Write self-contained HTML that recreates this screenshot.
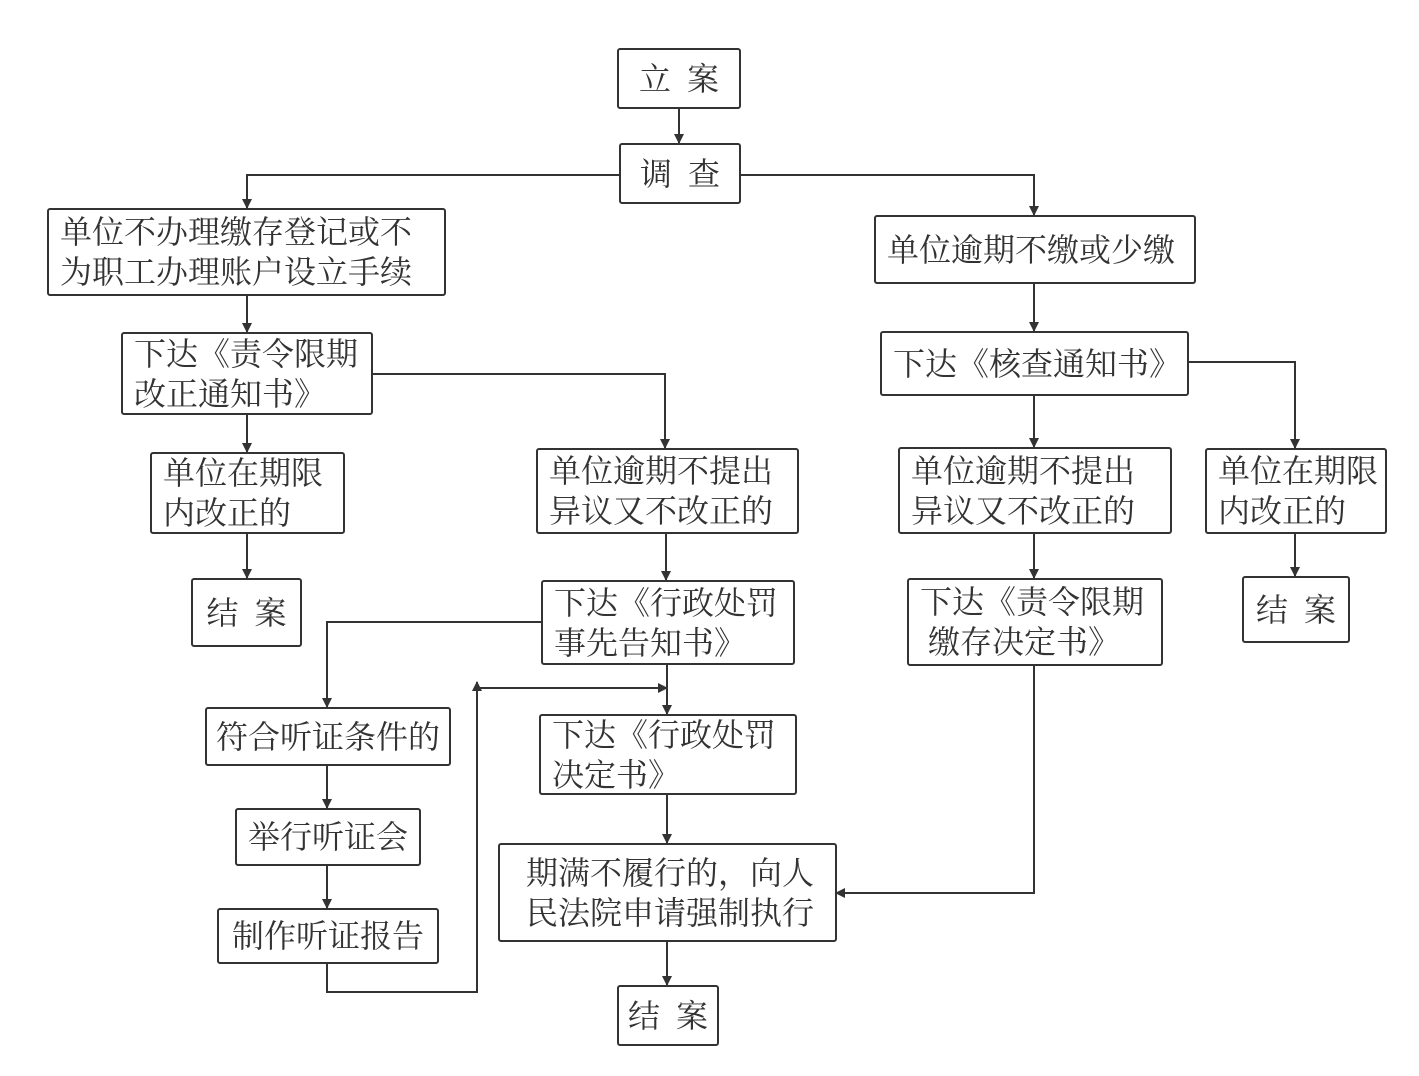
<!DOCTYPE html>
<html><head><meta charset="utf-8"><style>
body{margin:0;background:#fff;width:1419px;height:1076px;position:relative;overflow:hidden;font-family:"Liberation Serif","Noto Serif CJK SC","Noto Sans CJK SC",serif;color:#333}
.b{position:absolute;box-sizing:border-box;border:2px solid #333;border-radius:3px;background:#fff;font-size:32px;line-height:40px;display:flex;align-items:center;padding-left:11px;white-space:pre}
.c{justify-content:center;padding-left:0}
svg{position:absolute;left:0;top:0}
</style></head><body>
<svg width="1419" height="1076">
<defs><marker id="a" markerWidth="10" markerHeight="10" refX="9" refY="5" orient="auto" markerUnits="userSpaceOnUse"><path d="M0,0 L10,5 L0,10 z" fill="#333"/></marker></defs>
<g stroke="#333" stroke-width="2" fill="none" marker-end="url(#a)">
<path d="M679,108 V143"/>
<path d="M619,175 H247 V208"/>
<path d="M740,175 H1034 V215"/>
<path d="M247,295 V332"/>
<path d="M247,414 V452"/>
<path d="M372,374 H665 V448"/>
<path d="M247,533 V578"/>
<path d="M666,533 V580"/>
<path d="M541,622 H327 V707"/>
<path d="M667,664 V714"/>
<path d="M327,963 V992 H477 V682"/>
<path d="M477,688 H667"/>
<path d="M327,765 V808"/>
<path d="M327,865 V908"/>
<path d="M667,794 V843"/>
<path d="M667,941 V985"/>
<path d="M1034,283 V331"/>
<path d="M1034,395 V447"/>
<path d="M1188,362 H1295 V448"/>
<path d="M1295,533 V576"/>
<path d="M1034,533 V578"/>
<path d="M1034,665 V893 H836"/>
</g></svg>
<div class="b c" style="left:617px;top:48px;width:124px;height:61px">立  案</div>
<div class="b c" style="left:619px;top:143px;width:122px;height:61px">调  查</div>
<div class="b" style="left:47px;top:208px;width:399px;height:88px">单位不办理缴存登记或不
为职工办理账户设立手续</div>
<div class="b" style="left:121px;top:332px;width:252px;height:83px">下达《责令限期
改正通知书》</div>
<div class="b" style="left:150px;top:452px;width:195px;height:82px">单位在期限
内改正的</div>
<div class="b c" style="left:191px;top:578px;width:111px;height:69px">结  案</div>
<div class="b" style="left:536px;top:448px;width:263px;height:86px">单位逾期不提出
异议又不改正的</div>
<div class="b" style="left:541px;top:580px;width:254px;height:85px">下达《行政处罚
事先告知书》</div>
<div class="b c" style="left:205px;top:707px;width:246px;height:59px">符合听证条件的</div>
<div class="b c" style="left:235px;top:808px;width:186px;height:58px">举行听证会</div>
<div class="b c" style="left:217px;top:908px;width:222px;height:56px">制作听证报告</div>
<div class="b" style="left:539px;top:714px;width:258px;height:81px">下达《行政处罚
决定书》</div>
<div class="b" style="left:498px;top:843px;width:339px;height:99px;padding-left:26px">期满不履行的，向人
民法院申请强制执行</div>
<div class="b c" style="left:617px;top:985px;width:102px;height:61px">结  案</div>
<div class="b" style="left:874px;top:215px;width:322px;height:69px">单位逾期不缴或少缴</div>
<div class="b" style="left:880px;top:331px;width:309px;height:65px">下达《核查通知书》</div>
<div class="b" style="left:898px;top:447px;width:274px;height:87px">单位逾期不提出
异议又不改正的</div>
<div class="b" style="left:1205px;top:448px;width:182px;height:86px">单位在期限
内改正的</div>
<div class="b c" style="left:1242px;top:576px;width:108px;height:67px">结  案</div>
<div class="b" style="left:907px;top:578px;width:256px;height:88px">下达《责令限期
 缴存决定书》</div>
</body></html>
